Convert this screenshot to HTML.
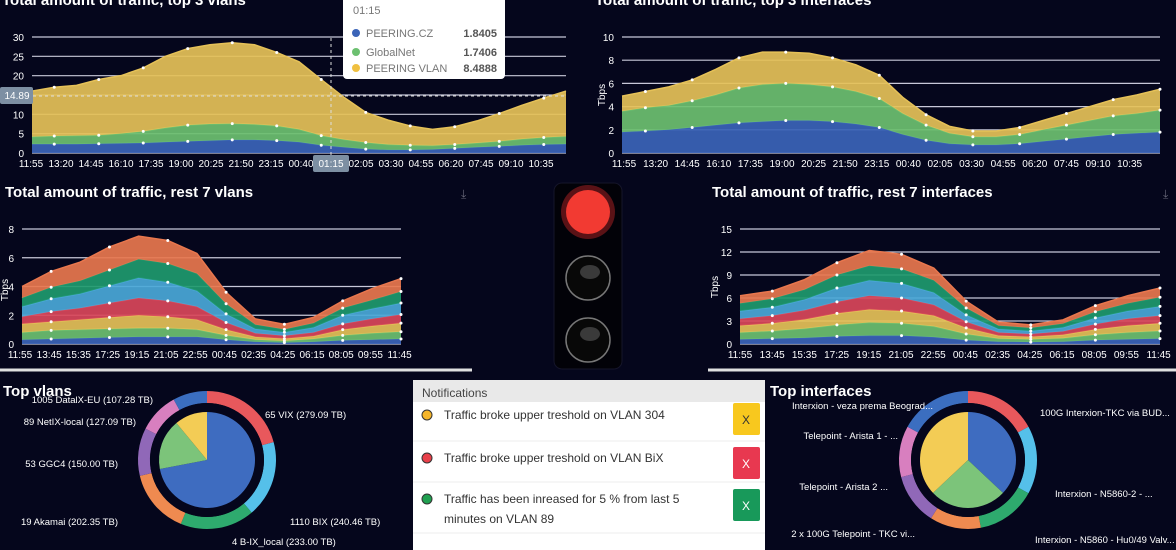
<!DOCTYPE html>
<html><head><meta charset="utf-8"><style>
body{margin:0;background:#05061c;width:1176px;height:550px;overflow:hidden;font-family:"Liberation Sans",sans-serif}
svg{display:block}
</style></head><body>
<svg id="s" width="1176" height="550" xmlns="http://www.w3.org/2000/svg">
<rect width="1176" height="550" fill="#05061c"/>
<g id="g"></g>
</svg>
<script>
// ---- Chart 1: top 3 vlans (Tbps), stacked
const c1Labels=["11:55","13:20","14:45","16:10","17:35","19:00","20:25","21:50","23:15","00:40","01:15","02:05","03:30","04:55","06:20","07:45","09:10","10:35"];
const c1Blue=[2.3,2.3,2.3,2.4,2.5,2.6,2.8,3.0,3.2,3.4,3.4,3.2,2.8,2.0,1.5,1.0,0.8,0.8,0.9,1.2,1.5,1.7,2.0,2.2,2.3];
const c1Green=[1.9,2.1,2.2,2.2,2.5,3.0,3.7,4.2,4.3,4.2,4.0,3.8,3.3,2.5,2.0,1.7,1.4,1.2,1.0,1.0,1.1,1.3,1.6,1.8,2.0];
const c1Yellow=[11.8,12.6,13.0,14.4,15.0,16.4,18.5,19.8,20.5,20.9,20.6,19.0,17.5,14.5,11.0,7.8,6.3,5.0,4.2,4.6,5.7,7.2,8.7,10.2,11.7];
const c1Ticks=[0,5,10,15,20,25,30];
// ---- Chart 2: top 3 interfaces
const c2Labels=["11:55","13:20","14:45","16:10","17:35","19:00","20:25","21:50","23:15","00:40","02:05","03:30","04:55","06:20","07:45","09:10","10:35"];
const c2Blue=[1.8,1.9,2.0,2.2,2.4,2.6,2.7,2.8,2.8,2.7,2.5,2.2,1.6,1.1,0.8,0.7,0.7,0.8,1.0,1.2,1.4,1.6,1.7,1.8];
const c2Green=[1.8,2.0,2.1,2.3,2.6,3.0,3.2,3.2,3.1,3.0,2.8,2.5,1.8,1.3,0.9,0.7,0.7,0.8,1.0,1.2,1.4,1.6,1.7,1.9];
const c2Yellow=[1.3,1.4,1.6,1.8,2.2,2.6,2.8,2.7,2.7,2.5,2.3,2.0,1.4,0.9,0.6,0.5,0.5,0.6,0.8,1.0,1.2,1.4,1.6,1.8];
const c2Ticks=[0,2,4,6,8,10];
// ---- Chart 3: rest 7 vlans
const c3Labels=["11:55","13:45","15:35","17:25","19:15","21:05","22:55","00:45","02:35","04:25","06:15","08:05","09:55","11:45"];
const c3S1=[0.3,0.35,0.4,0.45,0.5,0.5,0.5,0.3,0.15,0.1,0.15,0.25,0.3,0.35];
const c3S2=[0.5,0.6,0.6,0.6,0.6,0.6,0.5,0.3,0.15,0.12,0.2,0.35,0.45,0.5];
const c3S3=[0.6,0.6,0.7,0.8,0.9,0.8,0.7,0.4,0.2,0.15,0.2,0.4,0.5,0.6];
const c3S4=[0.5,0.7,0.8,1.0,1.2,1.1,0.9,0.5,0.25,0.2,0.25,0.4,0.5,0.6];
const c3S5=[0.7,0.9,1.0,1.2,1.4,1.3,1.1,0.6,0.3,0.25,0.35,0.6,0.7,0.8];
const c3S6=[0.6,0.8,0.9,1.1,1.3,1.3,1.2,0.7,0.3,0.2,0.3,0.5,0.6,0.8];
const c3S7=[0.8,1.1,1.3,1.6,1.6,1.6,1.4,0.8,0.4,0.35,0.4,0.5,0.8,0.9];
const c3Ticks=[0,2,4,6,8];
// ---- Chart 4: rest 7 interfaces
const c4Labels=["11:55","13:45","15:35","17:25","19:15","21:05","22:55","00:45","02:35","04:25","06:15","08:05","09:55","11:45"];
const c4S1=[0.6,0.7,0.8,1.0,1.1,1.1,0.9,0.5,0.3,0.25,0.3,0.5,0.6,0.7];
const c4S2=[0.9,1.0,1.2,1.5,1.7,1.6,1.4,0.8,0.4,0.35,0.45,0.7,0.9,1.0];
const c4S3=[0.9,1.0,1.2,1.5,1.7,1.6,1.4,0.8,0.4,0.35,0.45,0.7,0.9,1.0];
const c4S4=[0.9,1.0,1.2,1.5,1.8,1.7,1.4,0.8,0.4,0.35,0.45,0.7,0.9,1.0];
const c4S5=[1.0,1.1,1.4,1.8,2.0,1.9,1.6,0.9,0.45,0.4,0.5,0.8,1.0,1.2];
const c4S6=[1.0,1.1,1.3,1.7,1.9,1.9,1.6,0.9,0.45,0.4,0.5,0.8,1.0,1.2];
const c4S7=[1.0,1.0,1.3,1.6,2.0,1.9,1.6,0.9,0.45,0.4,0.5,0.8,1.0,1.2];
const c4Ticks=[0,3,6,9,12,15];
// ---- Pies
const p1Labels=["65 VIX (279.09 TB)","1110 BIX (240.46 TB)","4 B-IX_local (233.00 TB)","19 Akamai (202.35 TB)","53 GGC4 (150.00 TB)","89 NetIX-local (127.09 TB)","1005 DatalX-EU (107.28 TB)"];
const p1Values=[279.09,240.46,233.00,202.35,150.00,127.09,107.28];
const p1Inner=[72,17,11];
const p2Labels=["100G Interxion-TKC via BUD...","Interxion - N5860-2 - ...","Interxion - N5860 - Hu0/49 Valv...","2 x 100G Telepoint - TKC vi...","Telepoint - Arista 2 ...","Telepoint - Arista 1 - ...","Interxion - veza prema Beograd..."];
const p2Values=[17,16,14,12,12,12,17];
const p2Inner=[37,26,37];

const NS="http://www.w3.org/2000/svg";
const G=document.getElementById('g');
function mk(t,a,p){const e=document.createElementNS(NS,t);for(const k in a)e.setAttribute(k,a[k]);(p||G).appendChild(e);return e;}
function txt(x,y,s,a,p){const e=mk('text',Object.assign({x:x,y:y},a),p);e.textContent=s;return e;}

function chart(name,box,ymax,ticks,labels,series,colors,lblX){
  const g=mk('g',{});
  
  
  const xs=i=>box.x0+(box.x1-box.x0)*i/(series[0].length-1);
  const ys=v=>box.y0-(box.y0-box.y1)*v/ymax;
  ticks.forEach(t=>{
    const l=mk('line',{x1:box.x0,x2:box.x1,y1:ys(t),y2:ys(t),stroke:'#c8c8d8','stroke-width':1.2},g);
    
    
    const tt=txt(box.x0-8,ys(t)+4,String(t),{fill:'#fff','font-size':10,'text-anchor':'end'},g);
    
    
  });
  const n=series[0].length;let base=new Array(n).fill(0);
  const tops=[];
  series.forEach((s,k)=>{
    const top=s.map((v,i)=>base[i]+v);
    let d='M'+xs(0)+','+ys(base[0]);
    for(let i=0;i<n;i++)d+='L'+xs(i)+','+ys(top[i]);
    for(let i=n-1;i>=0;i--)d+='L'+xs(i)+','+ys(base[i]);
    const a=mk('path',{d:d+'Z',fill:colors[k],'fill-opacity':0.92},g);
    
    
    let ld='';for(let i=0;i<n;i++)ld+=(i?'L':'M')+xs(i)+','+ys(top[i]);
    const ln=mk('path',{d:ld,fill:'none',stroke:colors[k],'stroke-width':1.5},g);
    
    
    tops.push(top);base=top;
  });
  tops.forEach(top=>{for(let i=1;i<n;i+=2){const c=mk('circle',{cx:xs(i),cy:ys(top[i]),r:1.5,fill:'#fff'},g);}});
  labels.forEach((l,i)=>{
    const x=lblX(i);
    const t=txt(x,box.y0+14,l,{fill:'#fff','font-size':10,'text-anchor':'middle'},g);
    
    
  });
  return {xs,ys};
}
const Y='#e5c158',GR='#6cc070',BL='#3b64b8';
chart('chart-top3-vlans',{x0:32,x1:566,y0:153,y1:37},30,c1Ticks,c1Labels,[c1Blue,c1Green,c1Yellow],[BL,GR,Y],i=>31+i*30.0);
chart('chart-top3-interfaces',{x0:622,x1:1160,y0:153,y1:37},10,c2Ticks,c2Labels,[c2Blue,c2Green,c2Yellow],[BL,GR,Y],i=>624+i*31.6);
chart('chart-rest7-vlans',{x0:22,x1:401,y0:344,y1:229},8,c3Ticks,c3Labels,[c3S1,c3S2,c3S3,c3S4,c3S5,c3S6,c3S7],[BL,GR,Y,'#d9475a','#4aa8d8','#1e9a6e','#e8774e'],i=>20+i*29.2);
chart('chart-rest7-interfaces',{x0:740,x1:1160,y0:344,y1:229},15,c4Ticks,c4Labels,[c4S1,c4S2,c4S3,c4S4,c4S5,c4S6,c4S7],[BL,GR,Y,'#d9475a','#4aa8d8','#1e9a6e','#e8774e'],i=>740+i*32.2);

function pie(name,cx,cy,vals,inner,labels,lblPos){
  const g=mk('g',{});
  
  
  const oc=['#e8585c','#55c0ea','#2eaa6e','#ef8a50','#9068b8','#d87fbf','#3b6ec0'];
  const ic=['#3e6cc0','#7cc47a','#f3cc55'];
  const arc=(r0,r1,a0,a1,f,nm)=>{
    const p=(r,a)=>[cx+r*Math.sin(a),cy-r*Math.cos(a)];
    const L=(a1-a0)>Math.PI?1:0;
    const [x0,y0]=p(r1,a0),[x1,y1]=p(r1,a1),[x2,y2]=p(r0,a1),[x3,y3]=p(r0,a0);
    let d=`M${x0},${y0}A${r1},${r1} 0 ${L} 1 ${x1},${y1}`;
    d+= r0>0?`L${x2},${y2}A${r0},${r0} 0 ${L} 0 ${x3},${y3}Z`:`L${cx},${cy}Z`;
    const e=mk('path',{d:d,fill:f},g);
    
    
  };
  let s=vals.reduce((a,b)=>a+b,0),a=0;
  vals.forEach((v,i)=>{const b=a+v/s*Math.PI*2;arc(57,69,a,b,oc[i],'outer-slice');a=b;});
  mk('circle',{cx:cx,cy:cy,r:57,fill:'#05061c'},g);
  s=inner.reduce((a,b)=>a+b,0);a=0;
  inner.forEach((v,i)=>{const b=a+v/s*Math.PI*2;arc(0,48,a,b,ic[i],'inner-slice');a=b;});
  labels.forEach((l,i)=>{const [x,y,anc]=lblPos[i];
    const t=txt(x,y,l,{fill:'#fff','font-size':9.5,'text-anchor':anc},g);
    
    });
}
pie('pie-top-vlans',207,460,p1Values,p1Inner,p1Labels,[[265,418,'start'],[290,525,'start'],[232,545,'start'],[118,525,'end'],[118,467,'end'],[136,425,'end'],[153,403,'end']]);
pie('pie-top-interfaces',968,460,p2Values,p2Inner,p2Labels,[[1040,416,'start'],[1055,497,'start'],[1035,543,'start'],[915,537,'end'],[888,490,'end'],[898,439,'end'],[933,409,'end']]);
</script>
<svg style="position:absolute;left:0;top:0" width="1176" height="550" xmlns="http://www.w3.org/2000/svg">
<g font-family="Liberation Sans, sans-serif" fill="#fff">
<text x="2" y="5" font-size="15" font-weight="bold">Total amount of traffic, top 3 vlans</text>
<text x="595" y="5" font-size="15" font-weight="bold">Total amount of traffic, top 3 interfaces</text>
<text x="5" y="197" font-size="15" font-weight="bold">Total amount of traffic, rest 7 vlans</text>
<text x="712" y="197" font-size="15" font-weight="bold">Total amount of traffic, rest 7 interfaces</text>
<text x="3" y="396" font-size="15" font-weight="bold">Top vlans</text>
<text x="770" y="396" font-size="15" font-weight="bold">Top interfaces</text>
<text x="8" y="290" font-size="10" transform="rotate(-90 8 290)" text-anchor="middle">Tbps</text>
<text x="605" y="95" font-size="10" transform="rotate(-90 605 95)" text-anchor="middle">Tbps</text>
<text x="718" y="287" font-size="10" transform="rotate(-90 718 287)" text-anchor="middle">Tbps</text>
</g>
<text x="461" y="198" font-size="12" fill="#667">⤓</text>
<text x="1163" y="198" font-size="12" fill="#667">⤓</text>
<line x1="0" y1="370" x2="472" y2="370" stroke="#e0e0e0" stroke-width="3"/>
<line x1="708" y1="370" x2="1176" y2="370" stroke="#e0e0e0" stroke-width="3"/>
<line x1="331" y1="38" x2="331" y2="155" stroke="#ddd" stroke-dasharray="3,3"/>
<line x1="33" y1="96" x2="566" y2="96" stroke="#ddd" stroke-dasharray="3,3"/>
<rect x="0" y="87" width="33" height="17" rx="2" fill="#7d8fa3"/>
<text x="17" y="99" font-size="10" fill="#fff" text-anchor="middle" font-family="Liberation Sans">14.89</text>
<rect x="313" y="155" width="36" height="17" rx="2" fill="#7d8fa3"/>
<text x="331" y="167" font-size="10" fill="#fff" text-anchor="middle" font-family="Liberation Sans">01:15</text>
<g font-family="Liberation Sans" font-size="11">
<rect x="343" y="-5" width="162" height="84" rx="4" fill="#fff"/>
<text x="353" y="14" fill="#777">01:15</text>
<circle cx="356" cy="33" r="4" fill="#3b64b8"/><text x="366" y="37" fill="#777">PEERING.CZ</text><text x="497" y="37" fill="#555" font-weight="bold" text-anchor="end">1.8405</text>
<circle cx="356" cy="52" r="4" fill="#6cc070"/><text x="366" y="56" fill="#777">GlobalNet</text><text x="497" y="56" fill="#555" font-weight="bold" text-anchor="end">1.7406</text>
<circle cx="356" cy="68" r="4" fill="#f0c040"/><text x="366" y="72" fill="#777">PEERING VLAN</text><text x="497" y="72" fill="#555" font-weight="bold" text-anchor="end">8.4888</text>
</g>
<g>
<rect x="554" y="183" width="68" height="186" rx="8" fill="#020208" stroke="#15152a"/>
<circle cx="588" cy="212" r="27" fill="#ff3030" opacity="0.35"/>
<circle cx="588" cy="212" r="22" fill="#f23a32"/>
<circle cx="588" cy="278" r="22" fill="#080808" stroke="#777" stroke-width="1.5"/>
<ellipse cx="590" cy="272" rx="10" ry="7" fill="#3a3a3a"/>
<circle cx="588" cy="340" r="22" fill="#080808" stroke="#777" stroke-width="1.5"/>
<ellipse cx="590" cy="334" rx="10" ry="7" fill="#3a3a3a"/>
</g>
<g font-family="Liberation Sans" font-size="12">
<rect x="413" y="380" width="352" height="170" fill="#fff"/>
<rect x="413" y="380" width="352" height="22" fill="#e9e9e9"/>
<text x="422" y="397" fill="#444" font-size="12">Notifications</text>
<line x1="413" y1="441" x2="765" y2="441" stroke="#eee"/>
<line x1="413" y1="482" x2="765" y2="482" stroke="#eee"/>
<line x1="413" y1="533" x2="765" y2="533" stroke="#eee"/>
<circle cx="427" cy="415" r="5" fill="#f5b52a" stroke="#333"/>
<text x="444" y="419" fill="#333">Traffic broke upper treshold on VLAN 304</text>
<rect x="733" y="403" width="27" height="32" rx="2" fill="#f8c81e"/>
<text x="746" y="424" fill="#333" text-anchor="middle">X</text>
<circle cx="427" cy="458" r="5" fill="#e8404a" stroke="#333"/>
<text x="444" y="462" fill="#333">Traffic broke upper treshold on VLAN BiX</text>
<rect x="733" y="447" width="27" height="32" rx="2" fill="#e83850"/>
<text x="746" y="468" fill="#fff" text-anchor="middle">X</text>
<circle cx="427" cy="499" r="5" fill="#20a050" stroke="#333"/>
<text x="444" y="503" fill="#333">Traffic has been inreased for 5 % from last 5</text>
<text x="444" y="523" fill="#333">minutes on VLAN 89</text>
<rect x="733" y="489" width="27" height="32" rx="2" fill="#18995a"/>
<text x="746" y="510" fill="#fff" text-anchor="middle">X</text>
</g>
</svg>
</body></html>
